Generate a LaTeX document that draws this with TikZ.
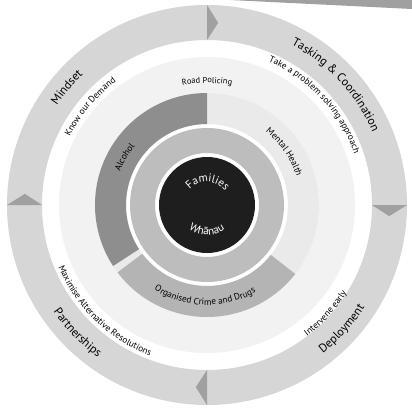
\documentclass[tikz,border=0pt]{standalone}
\usepackage{fontspec}
\setmainfont{PT Sans}
\usepackage{tikz}
\usetikzlibrary{decorations.text}
\usepackage{xcolor}

\definecolor{ringout}{HTML}{D6D6D6}
\definecolor{ringdot}{HTML}{F2F2F2}
\definecolor{ringmid}{HTML}{EAEAEA}
\definecolor{alcohol}{HTML}{8E8E8E}
\definecolor{crime}{HTML}{B4B4B4}
\definecolor{ringin}{HTML}{BDBDBD}
\definecolor{core}{HTML}{1E1E1E}
\definecolor{chevron}{HTML}{A0A0A0}

% curved labels: mid angle, baseline radius, size, colour, text
\newcommand{\arctop}[5]{%
  \path[decorate, decoration={text along path, text align=center, text color=#4,
      text={|\fontsize{#3}{#3}\selectfont|#5}}]
    ({#1+70}:#2) arc[start angle={#1+70}, end angle={#1-70}, radius=#2];}
\newcommand{\arcbot}[5]{%
  \path[decorate, decoration={text along path, text align=center, text color=#4,
      text={|\fontsize{#3}{#3}\selectfont|#5}}]
    ({#1-70}:#2) arc[start angle={#1-70}, end angle={#1+70}, radius=#2];}

\begin{document}
\begin{tikzpicture}[x=0.025cm, y=0.025cm]
        \useasboundingbox (-207,-203) rectangle (205,205);

        % Scan edge
        \fill[chevron] (23,205) -- (205,205) -- (205,196) -- cycle;

        % Outer ring
        \fill[ringout, even odd rule] (0,0) circle[radius=200] (0,0) circle[radius=165];
        \foreach \a in {0,90,180,270}
            \fill[chevron] (\a:165) -- (\a:200) -- ({\a-3.5}:182.5) -- cycle;

        % Middle rings
        \fill[ringdot, even odd rule] (0,0) circle[radius=148] (0,0) circle[radius=112];
        \fill[ringmid, even odd rule] (0,0) circle[radius=112] (0,0) circle[radius=81];
        \fill[alcohol] (90:112) arc[start angle=90, end angle=213, radius=112]
            -- (213:81) arc[start angle=213, end angle=90, radius=81] -- cycle;
        \fill[crime] (217:112) arc[start angle=217, end angle=322, radius=112]
            -- (322:81) arc[start angle=322, end angle=217, radius=81] -- cycle;

        % Core
        \fill[ringin, even odd rule] (0,0) circle[radius=77] (0,0) circle[radius=52];
        \fill[core] (0,0) circle[radius=48];

        % Labels
        \arctop{140}{180}{8.5}{black}{Mindset}
        \arctop{43}{181}{8.5}{black}{Tasking {\&} Coordination}
        \arcbot{224.6}{187}{8.5}{black}{Partnerships}
        \arcbot{317.5}{188}{8.5}{black}{Deployment}
        \arctop{140}{153}{6.5}{black}{Know our Demand}
        \arctop{43}{156}{6.5}{black}{Take a problem solving approach}
        \arcbot{226}{161}{6.5}{black}{Maximise Alternative Resolutions}
        \arcbot{317.6}{165}{6.5}{black}{Intervene early}
        \arctop{90}{122}{6}{black}{Road Policing}
        \arctop{34.5}{94}{6.5}{black}{Mental Health}
        \arctop{150}{93}{6.5}{black}{Alcohol}
        \arcbot{268.75}{100}{6.5}{black}{Organised Crime and Drugs}
        \arctop{88}{23}{8}{white}{Families}
        \arcbot{270}{30}{8}{white}{Whānau}
    \end{tikzpicture}
\end{document}
